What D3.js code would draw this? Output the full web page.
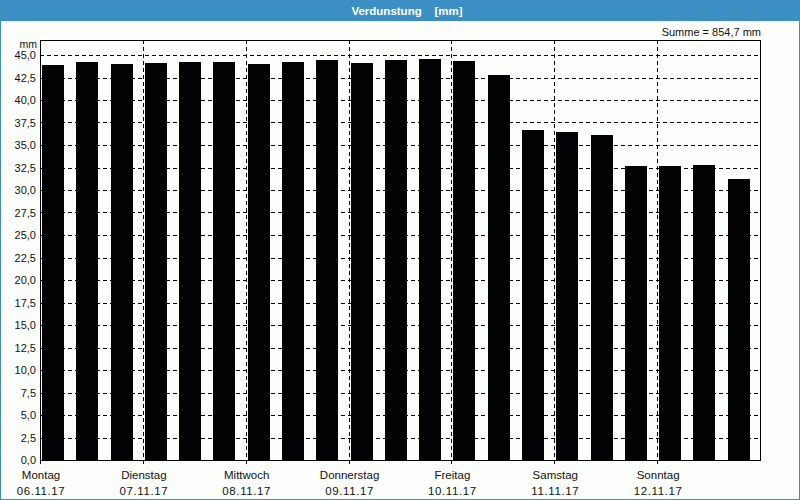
<!DOCTYPE html>
<html><head><meta charset="utf-8">
<script src="https://cdn.jsdelivr.net/npm/d3@7"></script>
<style>
html,body{margin:0;padding:0;background:#fcfefc;}
svg{display:block;}
text{font-family:"Liberation Sans",Arial,sans-serif;}
</style></head><body>
<svg id="c" width="800" height="500"></svg>
<script>
const title = "Verdunstung    [mm]";
const summe = "Summe = 854,7 mm";
const unit = "mm";
const days = ["Montag","Dienstag","Mittwoch","Donnerstag","Freitag","Samstag","Sonntag"];
const dates = ["06.11.17","07.11.17","08.11.17","09.11.17","10.11.17","11.11.17","12.11.17"];
const values = [43.9,44.2,44.0,44.1,44.2,44.25,44.0,44.25,44.4,44.1,44.4,44.6,44.3,42.8,36.7,36.4,36.1,32.7,32.7,32.8,31.2];
const yTicks = [0,2.5,5,7.5,10,12.5,15,17.5,20,22.5,25,27.5,30,32.5,35,37.5,40,42.5,45];

const svg = d3.select("#c");
const W = 800, H = 500;
const L = 40, R = 760, T = 40, B = 460;

// frame & header
svg.append("rect").attr("x",0.5).attr("y",0.5).attr("width",W-1).attr("height",H-1)
  .attr("fill","#fcfefc").attr("stroke","#3c8fc3").attr("stroke-width",1);
svg.append("rect").attr("x",0).attr("y",0).attr("width",W).attr("height",21).attr("fill","#3c8fc3");
svg.append("text").attr("x",407).attr("y",14.5).attr("text-anchor","middle")
  .attr("fill","#fff").attr("font-weight","bold").attr("font-size",11.5).attr("xml:space","preserve").text(title);

const y = d3.scaleLinear().domain([0,45]).range([B, B-405]);
const xb = d3.scaleBand().domain(d3.range(values.length)).range([L,R]).paddingInner(0).paddingOuter(0);
const xd = d3.scaleLinear().domain([0,days.length]).range([L,R]);

const g = svg.append("g");
// grid
g.selectAll("line.hg").data(yTicks.filter(v=>v>0)).join("line")
  .attr("x1",L).attr("x2",R).attr("y1",d=>Math.round(y(d))+0.5).attr("y2",d=>Math.round(y(d))+0.5)
  .attr("stroke","#000").attr("stroke-width",1).attr("stroke-dasharray","4,3").attr("shape-rendering","crispEdges");
g.selectAll("line.vg").data(d3.range(1,days.length)).join("line")
  .attr("x1",d=>Math.round(xd(d))+0.5).attr("x2",d=>Math.round(xd(d))+0.5).attr("y1",T).attr("y2",B)
  .attr("stroke","#000").attr("stroke-width",1).attr("stroke-dasharray","4,3").attr("shape-rendering","crispEdges");

// bars
const bw = xb.bandwidth();
g.selectAll("rect.bar").data(values).join("rect")
  .attr("x",(d,i)=>Math.round(xb(i)+bw*0.06))
  .attr("width",Math.round(bw*0.64))
  .attr("y",d=>Math.round(y(d)))
  .attr("height",d=>B-Math.round(y(d)))
  .attr("fill","#020204").attr("shape-rendering","crispEdges");

// plot border
svg.append("rect").attr("x",L+0.5).attr("y",T+0.5).attr("width",R-L).attr("height",B-T)
  .attr("fill","none").attr("stroke","#000").attr("stroke-width",1).attr("shape-rendering","crispEdges");

// y axis labels
const yAxis = d3.axisLeft(y).tickValues(yTicks).tickSize(0).tickPadding(4)
  .tickFormat(d=>d3.format(".1f")(d).replace(".",","));
const ya = svg.append("g").attr("transform",`translate(${L},0)`).call(yAxis);
ya.select(".domain").remove();
ya.selectAll("text").attr("font-size",11).attr("fill","#111").attr("font-family","'Liberation Sans',Arial,sans-serif");
svg.append("text").attr("x",37).attr("y",48).attr("text-anchor","end").attr("font-size",10.5).attr("fill","#111").text(unit);

// x ticks at day boundaries
svg.selectAll("line.xt").data(d3.range(0,days.length)).join("line")
  .attr("x1",d=>Math.round(xd(d))+0.5).attr("x2",d=>Math.round(xd(d))+0.5).attr("y1",B).attr("y2",B+4)
  .attr("stroke","#000").attr("shape-rendering","crispEdges");
svg.selectAll("text.day").data(days).join("text")
  .attr("x",(d,i)=>xd(i)+1).attr("y",479).attr("text-anchor","middle").attr("font-size",11.5).attr("fill","#111").text(d=>d);
svg.selectAll("text.date").data(dates).join("text")
  .attr("x",(d,i)=>xd(i)+1).attr("y",495).attr("text-anchor","middle").attr("font-size",11.5)
  .attr("letter-spacing",0.6).attr("fill","#111").text(d=>d);

svg.append("text").attr("x",761).attr("y",36).attr("text-anchor","end").attr("font-size",11).attr("fill","#111").text(summe);
</script>
</body></html>
